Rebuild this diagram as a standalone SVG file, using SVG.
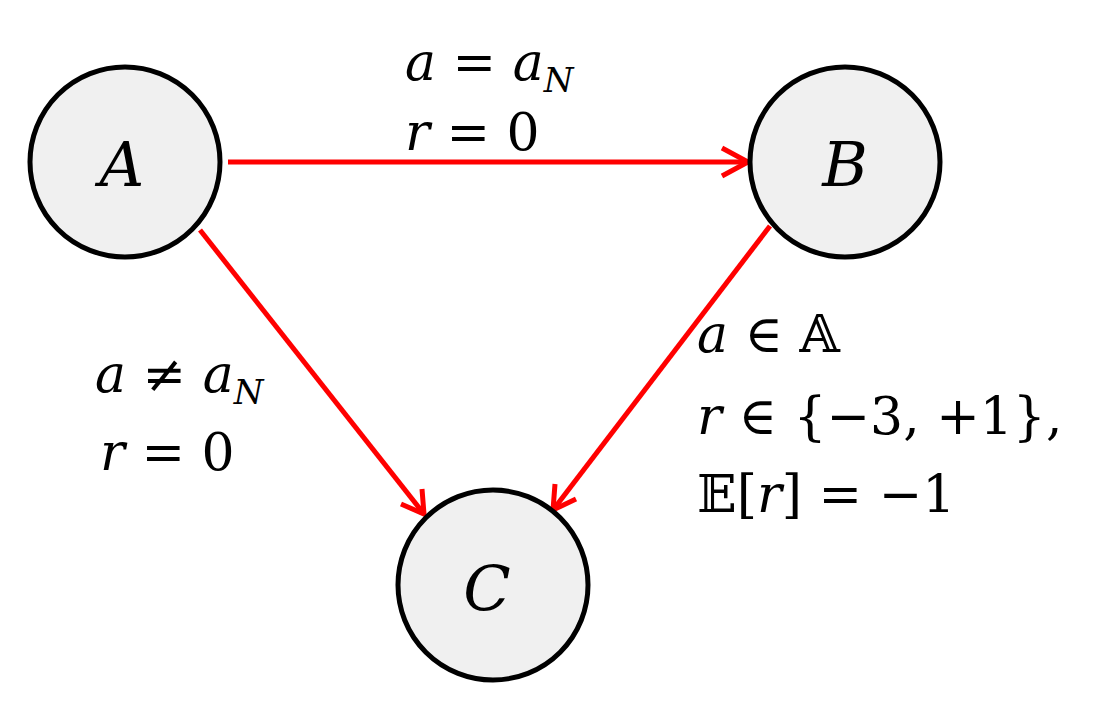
<svg xmlns="http://www.w3.org/2000/svg" width="1101" height="701" viewBox="0 0 1101 701">
<style>
.n{fill:#f0f0f0;stroke:#000;stroke-width:5}
.e{stroke:#f00;stroke-width:5;fill:none}
text{font-family:"DejaVu Serif",serif;font-size:52px;fill:#000}
.v{font-style:italic}
.big{font-size:62px;font-style:italic}
</style>
<rect width="1101" height="701" fill="#fff"/>
<g id="connectors">
<line class="e" x1="228" y1="162" x2="748" y2="162"/>
<path class="e" d="M722,148 L748,162 L722,176"/>
<line class="e" x1="200" y1="230" x2="424" y2="514"/>
<path class="e" d="M401,504 L424,514 L422,489"/>
<line class="e" x1="770" y1="226" x2="553" y2="510"/>
<path class="e" d="M555,484 L553,510 L576,499"/>
</g>
<g id="A"><circle class="n" cx="125" cy="162" r="95"/><text class="big" x="122" y="186" text-anchor="middle">A</text></g>
<g id="B"><circle class="n" cx="845" cy="162" r="95"/><text class="big" x="845" y="186" text-anchor="middle">B</text></g>
<g id="C"><circle class="n" cx="493" cy="585" r="95"/><text class="big" x="487" y="610" text-anchor="middle">C</text></g>
<g id="labels">
<text x="405" y="80"><tspan class="v">a</tspan> = <tspan class="v">a</tspan><tspan class="v" font-size="34" dy="12">N</tspan></text>
<text x="405" y="150"><tspan class="v">r</tspan> = 0</text>
<text x="95" y="392"><tspan class="v">a</tspan> ≠ <tspan class="v">a</tspan><tspan class="v" font-size="34" dy="12">N</tspan></text>
<text x="100" y="470"><tspan class="v">r</tspan> = 0</text>
<text x="697" y="352"><tspan class="v">a</tspan> ∈ 𝔸</text>
<text x="697" y="434"><tspan class="v">r</tspan> ∈ {−3, +1},</text>
<text x="697" y="512">𝔼[<tspan class="v">r</tspan>] = −1</text>
</g>
</svg>
